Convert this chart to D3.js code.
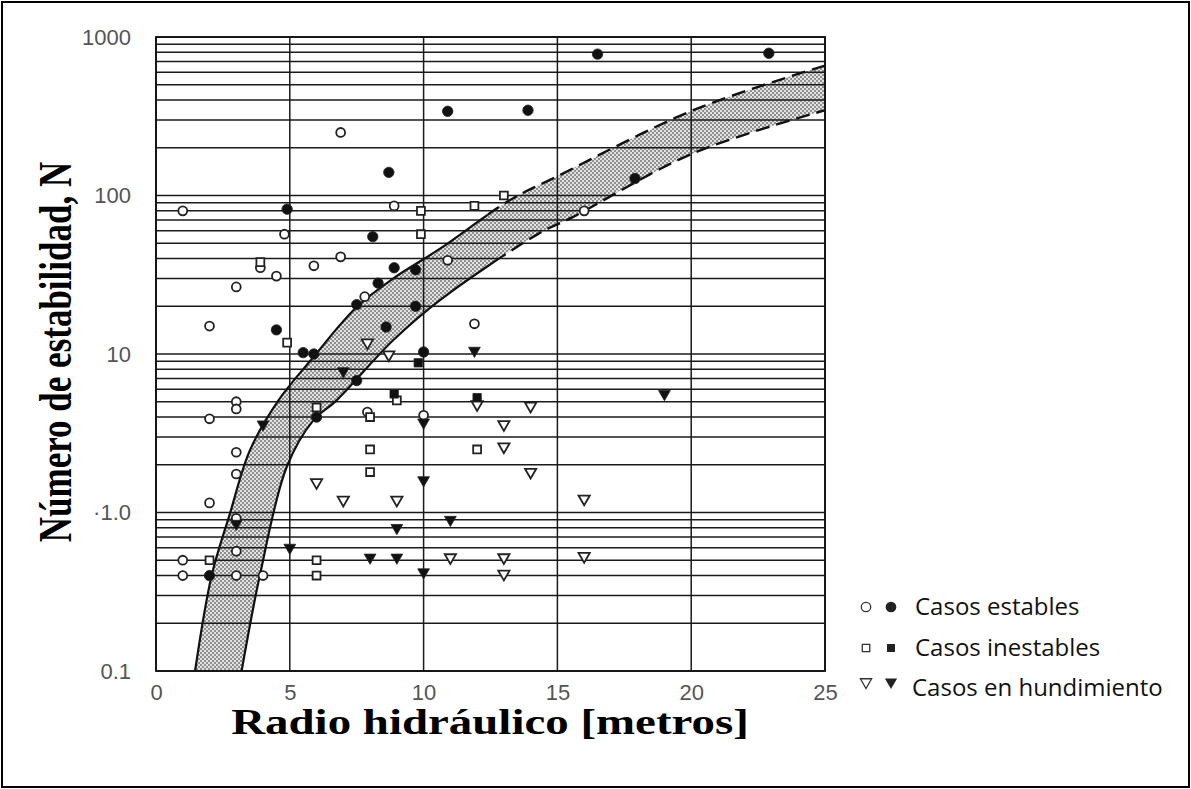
<!DOCTYPE html>
<html>
<head>
<meta charset="utf-8">
<script src="https://cdn.jsdelivr.net/npm/d3@7"></script>
<style>
  html, body { margin: 0; padding: 0; background: #fff; }
  svg { display: block; }
</style>
</head>
<body>
<div id="chart"></div>
<script>
// ---- Data: hydraulic radius (m) vs stability number N ----
const xTicks = [0, 5, 10, 15, 20, 25];
const yTickValues = [0.1, 1, 10, 100, 1000];
const yTickLabels = ["0.1", "·1.0", "10", "100", "1000"];

// Stable cases
const stableOpen = [
  [1, 80], [6.9, 250], [8.9, 86], [4.8, 57], [6.9, 41], [3.9, 35], [5.9, 36],
  [4.5, 31], [3, 26.5], [7.8, 23], [2, 15], [11.9, 15.5], [10.9, 39], [16, 80],
  [3, 5.0], [3, 4.5], [2, 3.9], [7.9, 4.3], [10, 4.1], [3, 2.4], [3, 1.75],
  [2, 1.15], [3, 0.92], [3, 0.57], [1, 0.5], [1, 0.4], [3, 0.4], [4, 0.4]
];
const stableFilled = [
  [16.5, 780], [22.9, 790], [10.9, 340], [13.9, 345], [8.7, 140], [17.9, 128],
  [4.9, 82], [8.1, 55], [8.9, 35], [9.7, 34], [8.3, 28], [7.5, 20.5], [9.7, 20],
  [4.5, 14.2], [8.6, 14.8], [5.5, 10.2], [5.9, 10], [10, 10.3], [7.5, 6.8],
  [6, 4.0], [2, 0.4]
];
// Unstable cases
const unstableOpen = [
  [9.9, 80], [13, 100], [11.9, 86], [9.9, 57], [3.9, 38], [4.9, 11.8], [6, 4.6],
  [8, 4.0], [9, 5.1], [12, 2.5], [8, 2.5], [8, 1.8], [2, 0.5], [6, 0.5], [6, 0.4]
];
const unstableFilled = [[9.8, 8.8], [8.9, 5.6], [12, 5.3]];
// Caving cases
const cavingOpen = [
  [7.9, 11.8], [8.7, 9.9], [12, 4.8], [14, 4.7], [13, 3.6], [13, 2.6], [14, 1.8],
  [16, 1.22], [6, 1.55], [7, 1.2], [9, 1.2], [11, 0.52], [13, 0.52], [13, 0.41],
  [16, 0.53]
];
const cavingFilled = [
  [11.9, 10.5], [19, 5.6], [7, 7.8], [10, 3.7], [4, 3.6], [10, 1.6], [11, 0.9],
  [9, 0.8], [3, 0.85], [5, 0.6], [8, 0.52], [9, 0.52], [10, 0.42]
];

// Transition zone boundaries
const bandUpperX = [1.46, 2.08, 2.76, 3.5, 4.57, 5.87, 7.49, 8.86, 10.6, 13.2, 14.95, 20.05, 25];
const bandUpperN = [0.1, 0.4, 0.98, 2.45, 5.08, 9.5, 19.7, 29.9, 46, 93, 131, 344, 660];
const bandLowerX = [3.2, 3.88, 4.88, 5.87, 6.74, 8.86, 10.6, 14.3, 15.57, 20.05, 25];
const bandLowerN = [0.1, 0.4, 1.93, 3.8, 5.08, 12.2, 21.8, 57.5, 73, 184, 345];
const upperDashFrom = 12.4;
const lowerDashFrom = 13.0;

const legendLabels = ["Casos estables", "Casos inestables", "Casos en hundimiento"];

// ---- Layout ----
const W = 1191, H = 789;
const svg = d3.select("#chart").append("svg").attr("width", W).attr("height", H);

const x = d3.scaleLinear().domain([0, 25]).range([156, 825]);
const y = d3.scaleLog().domain([0.1, 1000]).range([671, 37]);

// outer frame
svg.append("rect").attr("x", 2).attr("y", 2).attr("width", W - 4).attr("height", H - 4)
  .attr("fill", "none").attr("stroke", "#000").attr("stroke-width", 2);

// stipple pattern for the transition zone
const defs = svg.append("defs");
const pat = defs.append("pattern").attr("id", "stipple").attr("patternUnits", "userSpaceOnUse")
  .attr("width", 4).attr("height", 4);
pat.append("rect").attr("width", 4).attr("height", 4).attr("fill", "#e2e2e2");
pat.append("circle").attr("cx", 1).attr("cy", 1).attr("r", 0.9).attr("fill", "#6a6a6a");
pat.append("circle").attr("cx", 3).attr("cy", 3).attr("r", 0.9).attr("fill", "#6a6a6a");

defs.append("clipPath").attr("id", "plotClip").append("rect")
  .attr("x", x(0)).attr("y", y(1000)).attr("width", x(25) - x(0)).attr("height", y(0.1) - y(1000));

const plot = svg.append("g");

// transition band
const upperPts = bandUpperX.map((v, i) => [x(v), y(bandUpperN[i])]);
const lowerPts = bandLowerX.map((v, i) => [x(v), y(bandLowerN[i])]);
const curve = d3.curveCatmullRom.alpha(0.5);
const lineGen = d3.line().curve(curve);

const upperPath = lineGen(upperPts);
const lowerRevPath = lineGen(lowerPts.slice().reverse());
plot.append("path")
  .attr("d", upperPath + "L" + lowerRevPath.slice(1) + "Z")
  .attr("fill", "url(#stipple)")
  .attr("clip-path", "url(#plotClip)");

// horizontal grid (every log tick)
const gridG = plot.append("g").attr("stroke", "#1a1a1a").attr("stroke-width", 1.5);
y.ticks().forEach(t => {
  gridG.append("line").attr("x1", x(0)).attr("x2", x(25))
    .attr("y1", y(t)).attr("y2", y(t));
});
// vertical grid
xTicks.forEach(t => {
  gridG.append("line").attr("x1", x(t)).attr("x2", x(t))
    .attr("y1", y(1000)).attr("y2", y(0.1));
});

// band boundaries: solid lower part, dashed upper part
function boundary(xs, ns, dashFrom) {
  const full = lineGen(xs.map((v, i) => [x(v), y(ns[i])]));
  const cidS = "clipS" + String(dashFrom).replace(".", "_");
  const cidD = "clipD" + String(dashFrom).replace(".", "_");
  defs.append("clipPath").attr("id", cidS).append("rect")
    .attr("x", x(0)).attr("y", y(1000)).attr("width", x(dashFrom) - x(0)).attr("height", y(0.1) - y(1000));
  defs.append("clipPath").attr("id", cidD).append("rect")
    .attr("x", x(dashFrom)).attr("y", y(1000)).attr("width", x(25) - x(dashFrom)).attr("height", y(0.1) - y(1000));
  plot.append("path").attr("d", full).attr("fill", "none").attr("stroke", "#111")
    .attr("stroke-width", 2.2).attr("clip-path", `url(#${cidS})`);
  plot.append("path").attr("d", full).attr("fill", "none").attr("stroke", "#111")
    .attr("stroke-width", 2.4).attr("stroke-dasharray", "14,7").attr("clip-path", `url(#${cidD})`);
}
boundary(bandUpperX, bandUpperN, upperDashFrom);
boundary(bandLowerX, bandLowerN, lowerDashFrom);

// ---- Axes ----
const yAxis = d3.axisLeft(y).tickValues(yTickValues)
  .tickFormat((d, i) => yTickLabels[i]).tickSize(0).tickPadding(25);
const yAxisG = svg.append("g").attr("transform", `translate(${x(0)},0)`).call(yAxis);
const xAxis = d3.axisBottom(x).tickValues(xTicks).tickSize(0).tickPadding(13);
const xAxisG = svg.append("g").attr("transform", `translate(0,${y(0.1)})`).call(xAxis);
[yAxisG, xAxisG].forEach(g => {
  g.select(".domain").remove();
  g.selectAll("text").attr("font-family", "'Liberation Sans', Arial, sans-serif")
    .attr("font-size", 22).attr("fill", "#555");
});

// plot frame
svg.append("rect").attr("x", x(0)).attr("y", y(1000))
  .attr("width", x(25) - x(0)).attr("height", y(0.1) - y(1000))
  .attr("fill", "none").attr("stroke", "#111").attr("stroke-width", 1.8);

// ---- Markers ----
const sym = {
  circle: d3.symbol().type(d3.symbolCircle),
  square: d3.symbol().type(d3.symbolSquare),
  tri: d3.symbol().type(d3.symbolTriangle)
};
function drawSet(data, kind, filled, size) {
  const g = svg.append("g");
  g.selectAll("path").data(data).join("path")
    .attr("d", sym[kind].size(size)())
    .attr("transform", d => `translate(${x(d[0])},${y(d[1])})` + (kind === "tri" ? " rotate(180)" : ""))
    .attr("fill", filled ? "#111" : "#fff")
    .attr("stroke", "#222")
    .attr("stroke-width", filled ? 0.8 : 1.8);
}
drawSet(stableOpen, "circle", false, 62);
drawSet(unstableOpen, "square", false, 62);
drawSet(cavingOpen, "tri", false, 55);
drawSet(stableFilled, "circle", true, 85);
drawSet(unstableFilled, "square", true, 70);
drawSet(cavingFilled, "tri", true, 60);

// ---- Axis titles (bold serif, horizontally widened) ----
const titleFont = 35;
const titleStretch = 1.34;
svg.append("text")
  .attr("transform", `translate(${55 + titleFont * 0.34 * titleStretch},352) scale(${titleStretch},1) rotate(-90)`)
  .attr("text-anchor", "middle")
  .attr("font-family", "'Liberation Serif', 'Times New Roman', serif")
  .attr("font-weight", "bold").attr("font-size", titleFont).attr("fill", "#000")
  .text("Número de estabilidad, N");

svg.append("text")
  .attr("transform", `translate(490,${722 + titleFont * 0.34}) scale(${titleStretch},1)`)
  .attr("text-anchor", "middle")
  .attr("font-family", "'Liberation Serif', 'Times New Roman', serif")
  .attr("font-weight", "bold").attr("font-size", titleFont).attr("fill", "#000")
  .text("Radio hidráulico [metros]");

// ---- Legend ----
const legendRows = [
  { kind: "circle", y: 607, lx: 915 },
  { kind: "square", y: 648, lx: 915 },
  { kind: "tri", y: 688, lx: 912 }
];
const legG = svg.append("g");
legendRows.forEach((r, i) => {
  const rot = r.kind === "tri" ? " rotate(180)" : "";
  const sy = r.kind === "tri" ? r.y - 6 : r.y;
  legG.append("path").attr("d", sym[r.kind].size(r.kind === "circle" ? 70 : 55)())
    .attr("transform", `translate(866,${sy})` + rot)
    .attr("fill", "#fff").attr("stroke", "#333").attr("stroke-width", 1.3);
  legG.append("path").attr("d", sym[r.kind].size(r.kind === "circle" ? 90 : 65)())
    .attr("transform", `translate(891,${sy})` + rot)
    .attr("fill", "#222");
  legG.append("text").attr("x", r.lx).attr("y", r.y).attr("dy", "0.35em")
    .attr("font-family", "'Open Sans', 'Noto Sans', sans-serif")
    .attr("font-size", 24).attr("fill", "#111")
    .text(legendLabels[i]);
});
</script>
</body>
</html>
